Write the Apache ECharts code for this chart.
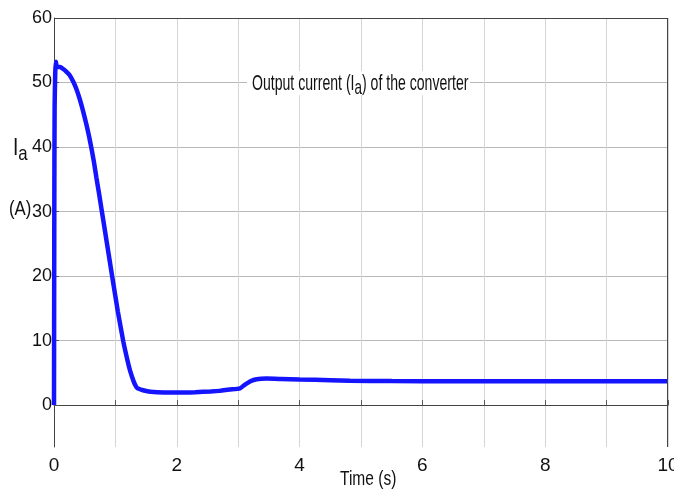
<!DOCTYPE html>
<html><head><meta charset="utf-8">
<script src="https://cdn.jsdelivr.net/npm/echarts@6/dist/echarts.min.js"></script>
<style>html,body{margin:0;padding:0;background:#fff}#c{width:674px;height:495px}</style>
</head><body><div id="c"></div>
<script>
// time (s)
var timeValues = [0, 0.005, 0.01, 0.02, 0.03, 0.05, 0.1, 0.15, 0.2, 0.25, 0.31, 0.36, 0.42, 0.47, 0.53, 0.57, 0.61, 0.65, 0.69, 0.73, 0.78, 0.83, 0.87, 0.91, 0.95, 1.04, 1.13, 1.2, 1.24, 1.30, 1.34, 1.36, 1.45, 1.57, 1.8, 2.0, 2.3, 2.55, 2.7, 2.85, 3.03, 3.1, 3.2, 3.3, 3.46, 3.7, 4.0, 4.5, 4.82, 5.5, 6.5, 8, 10];
// output current Ia (A)
var currentValues = [0, 30, 46, 51.5, 53.2, 52.4, 52.4, 52.1, 51.7, 51.2, 50.2, 49.1, 47.4, 45.7, 43.4, 41.7, 39.8, 37.7, 35.3, 33.0, 30, 27.0, 24.6, 22.2, 19.8, 14.5, 9.8, 6.8, 5.3, 3.6, 2.8, 2.6, 2.3, 2.05, 1.95, 1.95, 2.0, 2.1, 2.2, 2.4, 2.6, 3.1, 3.7, 4.0, 4.1, 4.05, 3.97, 3.85, 3.77, 3.72, 3.7, 3.7, 3.7];
var yTicks = [0, 10, 20, 30, 40, 50, 60];
var xLabelValues = [0, 2, 4, 6, 8, 10];

var FONT = '"Liberation Sans", Arial, sans-serif';
var data = timeValues.map(function (t, i) { return [t, currentValues[i]]; });

var chart = echarts.init(document.getElementById('c'));
chart.setOption({
  animation: false,
  backgroundColor: '#fff',
  grid: { left: 54, right: 6, top: 18, bottom: 48, containLabel: false, outerBoundsMode: 'none' },
  xAxis: {
    type: 'value', min: 0, max: 10, interval: 1,
    axisLine: { show: true, lineStyle: { color: '#444', width: 1 } },
    axisTick: { show: true, inside: true, length: 5, lineStyle: { color: '#555' } },
    splitLine: { show: true, lineStyle: { color: '#d6d6d6', width: 1 } },
    axisLabel: {
      margin: 9, color: '#111', fontFamily: FONT, fontSize: 19, hideOverlap: false,
      formatter: function (v) { return xLabelValues.indexOf(v) >= 0 ? String(v) : ''; }
    }
  },
  yAxis: {
    type: 'value', min: -6.5, max: 60,
    axisLine: { show: true, lineStyle: { color: '#444', width: 1 } },
    axisTick: { show: true, inside: true, length: 5, customValues: yTicks, lineStyle: { color: '#555' } },
    splitLine: { show: true, lineStyle: { color: '#b8b8b8', width: 1 } },
    axisLabel: { margin: 2, color: '#111', fontFamily: FONT, fontSize: 18, customValues: yTicks }
  },
  graphic: [
    { type: 'rect', z: 20, left: 667, top: 18, shape: { width: 1, height: 429 }, style: { fill: '#444' }, silent: true },
    { type: 'rect', z: 20, left: 54, top: 18, shape: { width: 614, height: 1 }, style: { fill: '#444' }, silent: true },
    { type: 'rect', z: 20, left: 247, top: 71, shape: { width: 223, height: 24 }, style: { fill: '#fff' }, silent: true },
    { type: 'text', z: 21, x: 13, y: 132, scaleX: 0.8, style: { text: '{i|I}{s|a}', rich: { i: { fontFamily: FONT, fontSize: 24, fill: '#111' }, s: { fontFamily: FONT, fontSize: 21, fill: '#111', padding: [12, 0, 0, 0] } } } },
    { type: 'text', z: 21, x: 9, y: 199, scaleX: 0.8, style: { text: '(A)', fontFamily: FONT, fontSize: 21, fill: '#111' } },
    { type: 'text', z: 21, x: 340, y: 469, scaleX: 0.74, style: { text: 'Time (s)', fontFamily: FONT, fontSize: 21, fill: '#111' } },
    { type: 'text', z: 21, x: 252, y: 69, scaleX: 0.64, style: { text: '{t|Output current (I}{s|a}{t|) of the converter}', rich: { t: { fontFamily: FONT, fontSize: 22, fill: '#111' }, s: { fontFamily: FONT, fontSize: 21, fill: '#111', padding: [9, 0, 0, 0] } } } }
  ],
  series: [{
    type: 'line', data: data, showSymbol: false, smooth: 0.2,
    lineStyle: { color: '#1414ff', width: 4.5 }
  }]
});
</script></body></html>
